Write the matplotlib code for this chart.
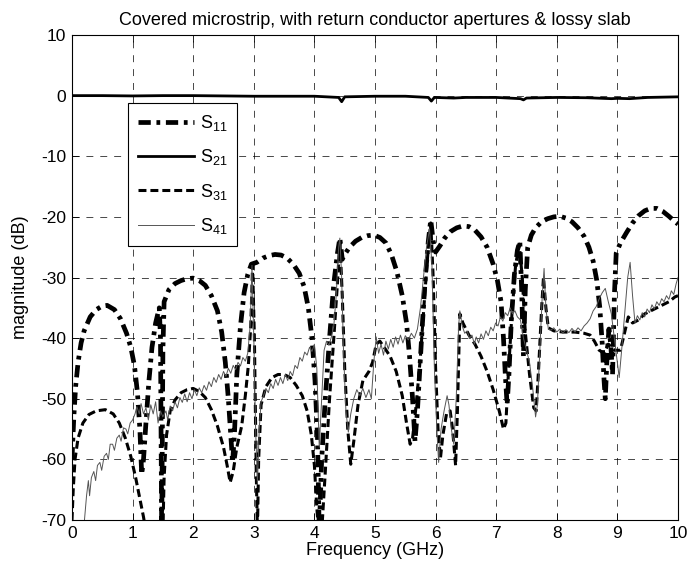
import matplotlib
matplotlib.use("Agg")
import matplotlib.pyplot as plt

plt.rcParams['font.family'] = ['Liberation Sans', 'DejaVu Sans']
plt.rcParams['mathtext.default'] = 'regular'
plt.rcParams['axes.unicode_minus'] = False

# ---- data (GHz, dB) ----
s11_f = [0.00, 0.03, 0.06, 0.10, 0.15, 0.20, 0.30, 0.40, 0.50, 0.58, 0.70, 0.80, 0.90, 0.97,
         1.03, 1.08, 1.12, 1.15, 1.18, 1.22, 1.27, 1.32, 1.38, 1.44, 1.46, 1.48, 1.50, 1.52,
         1.60, 1.70, 1.80, 1.90, 2.00, 2.10, 2.20, 2.30, 2.40, 2.47, 2.53, 2.58, 2.62, 2.65,
         2.68, 2.72, 2.78, 2.84, 2.90, 2.96, 3.05, 3.15, 3.25, 3.35, 3.45, 3.55, 3.65, 3.75,
         3.83, 3.90, 3.96, 4.01, 4.05, 4.08, 4.12, 4.18, 4.25, 4.32, 4.38, 4.42, 4.46, 4.50,
         4.58, 4.68, 4.78, 4.88, 4.98, 5.08, 5.18, 5.27, 5.36, 5.45, 5.52, 5.57, 5.62, 5.66,
         5.70, 5.74, 5.78, 5.83, 5.88, 5.92, 5.96, 6.00, 6.07, 6.15, 6.25, 6.35, 6.45, 6.55,
         6.65, 6.75, 6.85, 6.95, 7.02, 7.08, 7.12, 7.15, 7.18, 7.21, 7.25, 7.30, 7.35, 7.39,
         7.42, 7.45, 7.48, 7.52, 7.58, 7.65, 7.75, 7.85, 7.95, 8.05, 8.15, 8.25, 8.35, 8.45,
         8.53, 8.60, 8.66, 8.71, 8.75, 8.78, 8.80, 8.83, 8.86, 8.89, 8.92, 8.95, 8.98, 9.05,
         9.15, 9.25, 9.35, 9.45, 9.55, 9.65, 9.75, 9.85, 9.95, 10.00]
s11_db = [-60, -53, -48, -44, -40.8, -38.8, -36.5, -35.3, -34.7, -34.6, -35.3, -36.8, -39.2, -41.5,
          -44.5, -49, -55, -62.5, -60, -54, -47, -41.5, -37.5, -35, -40, -72, -42, -34,
          -32, -31, -30.5, -30.2, -30.1, -30.5, -31.3, -33, -35.5, -39, -44, -50, -56, -60.5,
          -56, -46, -38, -32.5, -29.5, -27.8, -27.5, -26.8, -26.4, -26.2, -26.3, -26.8, -27.8, -29.3,
          -31.5, -35, -40, -47, -56, -72, -60, -50, -40, -31, -26, -23.5, -27, -26.2,
          -25, -24, -23.4, -23.1, -23, -23.4, -24.3, -26.2, -29, -33, -37.5, -43, -50, -57,
          -52, -45, -38, -30, -24, -20.5, -24, -25.8, -24.8, -23.5, -22.4, -21.8, -21.5, -21.6,
          -22.2, -23.3, -25, -27.8, -30.5, -34, -40, -46, -51, -46, -37, -29.5, -25.5, -24,
          -32, -43, -32, -25, -23, -21.8, -20.8, -20.3, -20, -19.9, -20.2, -20.8, -21.8, -23.2,
          -25, -27.3, -30.5, -35, -41, -47, -50, -43, -38.5, -41, -46, -33, -26, -24.3,
          -22.6, -21, -19.8, -19, -18.6, -18.6, -19.1, -19.9, -20.8, -21.2]

s21_f = [0.0, 0.5, 1.0, 1.5, 2.0, 2.5, 3.0, 3.5, 4.0, 4.4, 4.45, 4.5, 5.0, 5.5, 5.88, 5.93,
         5.98, 6.3, 6.5, 7.0, 7.4, 7.45, 7.5, 8.0, 8.5, 8.9, 9.0, 9.2, 9.5, 10.0]
s21_db = [0, 0, -0.05, 0, 0, -0.05, -0.1, -0.1, -0.1, -0.3, -1.0, -0.2, -0.1, -0.1, -0.3, -0.9,
          -0.3, -0.4, -0.3, -0.3, -0.5, -0.7, -0.4, -0.3, -0.35, -0.5, -0.45, -0.5, -0.3, -0.2]

s31_f = [0.00, 0.02, 0.05, 0.10, 0.18, 0.28, 0.40, 0.55, 0.68, 0.78, 0.88, 0.97, 1.05, 1.12,
         1.18, 1.22, 1.50, 1.52, 1.56, 1.62, 1.70, 1.80, 1.90, 2.00, 2.10, 2.20, 2.30, 2.40,
         2.50, 2.56, 2.61, 2.66, 2.72, 2.80, 2.86, 2.91, 2.95, 2.98, 3.01, 3.04, 3.06, 3.08,
         3.12, 3.20, 3.30, 3.40, 3.50, 3.60, 3.70, 3.80, 3.88, 3.95, 4.00, 4.04, 4.07, 4.12,
         4.18, 4.25, 4.32, 4.38, 4.42, 4.46, 4.50, 4.55, 4.60, 4.65, 4.72, 4.80, 4.90, 4.96,
         5.02, 5.08, 5.15, 5.25, 5.35, 5.45, 5.52, 5.58, 5.62, 5.68, 5.75, 5.82, 5.88, 5.92,
         5.96, 6.00, 6.04, 6.08, 6.12, 6.18, 6.24, 6.28, 6.33, 6.36, 6.40, 6.45, 6.55, 6.65,
         6.75, 6.85, 6.95, 7.05, 7.12, 7.16, 7.20, 7.26, 7.32, 7.38, 7.43, 7.48, 7.55, 7.62,
         7.66, 7.70, 7.75, 7.78, 7.82, 7.86, 7.95, 8.10, 8.30, 8.45, 8.55, 8.62, 8.70, 8.78,
         8.85, 8.95, 9.05, 9.12, 9.18, 9.25, 9.35, 9.45, 9.55, 9.65, 9.75, 9.85, 9.95, 10.00]
s31_db = [-70, -65, -60, -56.5, -54, -52.6, -52, -51.8, -52.5, -54, -56.5, -59.5, -63, -66.5,
          -69.5, -72, -72, -63, -56, -52, -50.2, -49, -48.5, -48.3, -48.8, -49.8, -51.8, -54.5,
          -58, -61, -63.8, -62, -58, -54.5, -49.5, -44.5, -38, -28, -40, -62, -72, -60,
          -51, -48, -46.5, -46, -46, -46.5, -47.8, -49.5, -52, -56, -61, -68, -72, -72,
          -62, -50, -40, -31, -23.8, -33, -45, -55, -60.8, -57, -51, -47, -45.5, -44,
          -41, -40.5, -41.5, -43, -45.5, -49.5, -54, -57.5, -56.5, -51, -43, -33, -25, -21,
          -30, -45, -55, -59.8, -56, -52.5, -52, -55, -61, -52, -36, -37.5, -39.5, -41,
          -43, -45.5, -48.5, -52, -55, -54, -46, -36, -28, -24.5, -30, -39, -46, -51.5,
          -52, -45, -35, -30, -35, -38.3, -38.8, -39, -39, -39.2, -39.5, -40.5, -42, -42.5,
          -41, -42, -42, -39, -36.5, -37.5, -37, -36, -35.5, -35, -34.5, -34, -33.2, -33]

s41_f = [0.19, 0.21, 0.24, 0.27, 0.29, 0.32, 0.36, 0.39, 0.42, 0.46, 0.49, 0.53, 0.57, 0.60,
         0.63, 0.67, 0.70, 0.74, 0.78, 0.81, 0.85, 0.89, 0.92, 0.96, 1.00, 1.04, 1.07, 1.11,
         1.14, 1.18, 1.22, 1.26, 1.30, 1.34, 1.38, 1.42, 1.46, 1.50, 1.55, 1.58, 1.62, 1.66,
         1.70, 1.74, 1.78, 1.82, 1.86, 1.90, 1.94, 1.98, 2.02, 2.06, 2.10, 2.14, 2.18, 2.22,
         2.26, 2.30, 2.34, 2.38, 2.42, 2.46, 2.50, 2.54, 2.58, 2.62, 2.66, 2.70, 2.74, 2.78,
         2.82, 2.86, 2.90, 2.94, 2.97, 3.00, 3.03, 3.06, 3.09, 3.12, 3.16, 3.20, 3.24, 3.28,
         3.32, 3.36, 3.40, 3.44, 3.48, 3.52, 3.56, 3.60, 3.64, 3.68, 3.72, 3.76, 3.80, 3.84,
         3.88, 3.92, 3.96, 4.00, 4.04, 4.08, 4.12, 4.16, 4.20, 4.24, 4.28, 4.32, 4.36, 4.40,
         4.42, 4.45, 4.48, 4.52, 4.56, 4.60, 4.65, 4.70, 4.75, 4.80, 4.85, 4.90, 4.94, 4.98,
         5.02, 5.06, 5.10, 5.14, 5.18, 5.22, 5.26, 5.30, 5.34, 5.38, 5.42, 5.46, 5.50, 5.55,
         5.60, 5.65, 5.70, 5.75, 5.80, 5.85, 5.90, 5.94, 5.98, 6.02, 6.05, 6.09, 6.14, 6.19,
         6.22, 6.26, 6.30, 6.34, 6.38, 6.40, 6.44, 6.48, 6.52, 6.56, 6.60, 6.64, 6.67, 6.71,
         6.75, 6.79, 6.83, 6.87, 6.91, 6.95, 6.99, 7.03, 7.07, 7.11, 7.15, 7.19, 7.23, 7.27,
         7.31, 7.35, 7.40, 7.45, 7.50, 7.55, 7.60, 7.65, 7.68, 7.72, 7.76, 7.79, 7.82, 7.86,
         7.90, 7.95, 8.00, 8.05, 8.10, 8.15, 8.20, 8.25, 8.30, 8.35, 8.40, 8.45, 8.50, 8.55,
         8.60, 8.65, 8.70, 8.75, 8.80, 8.85, 8.90, 8.95, 9.00, 9.03, 9.07, 9.12, 9.17, 9.21,
         9.25, 9.29, 9.33, 9.37, 9.41, 9.45, 9.49, 9.53, 9.57, 9.61, 9.65, 9.69, 9.73, 9.77,
         9.81, 9.85, 9.89, 9.93, 9.97, 10.00]
s41_db = [-72, -69.5, -66, -63.5, -66, -63, -62, -63.5, -61, -60.5, -61.8, -59.5, -59, -60,
          -57.5, -57.5, -58.5, -56.5, -56, -57, -54.8, -55, -55.8, -54, -53.5, -52.5, -51.3, -52.5,
          -50.8, -52.5, -51.5, -53.5, -51, -52.5, -50.5, -54, -52, -53, -52, -53.5, -51.2, -52,
          -50.5, -51.5, -49.8, -50.6, -49.2, -50.5, -49, -50, -48.5, -49.5, -48.2, -49, -47.8, -48.6,
          -47.2, -48, -46.5, -47.3, -46, -46.8, -45.5, -46.3, -45, -45.8, -44.5, -45.2, -44, -44.6,
          -43.2, -43.8, -42.5, -38, -28, -40, -55, -64, -55, -50.5, -49.5, -48.3, -49, -47.5,
          -48.3, -46.8, -47.8, -46.5, -47.5, -46, -47, -45.5, -46.2, -44.5, -45, -43.2, -43.8, -42.3,
          -42.8, -41.5, -42.2, -41, -45, -58, -50, -42, -40.5, -41.2, -39.8, -38, -33, -25,
          -23.5, -30, -42, -52, -55.5, -52.5, -50, -48.5, -49.5, -48.3, -49.8, -48.5, -50, -44,
          -39.8, -42.5, -41, -42.8, -40.5, -41.8, -40.2, -41.5, -39.8, -41, -39.5, -40.8, -39.6, -40.3,
          -39.2, -40, -38.5, -35, -30, -25, -22, -28, -45, -55, -60.5, -55, -52, -49.5,
          -51, -55, -57.5, -50, -38, -35.5, -38, -39.2, -38.8, -40, -39.5, -41, -39.8, -40.8,
          -39.3, -40.2, -38.8, -39.6, -38.2, -38.8, -37.5, -38, -36.5, -37.2, -35.8, -36.3, -35, -36,
          -35.5, -36.5, -37, -40, -42, -44, -48, -53, -51, -42, -33, -28.5, -35, -38.5,
          -38.7, -38.3, -39, -38.5, -39.2, -38.6, -39.1, -38.4, -39, -38.3, -38.8, -38, -37.5, -36.8,
          -35.5, -34.8, -33.5, -32.5, -31.8, -34, -36, -40, -44, -46.5, -42, -36, -30, -27.5,
          -33, -37.5, -36.3, -37, -35.8, -36.5, -35.2, -35.8, -34.5, -35.2, -34, -34.6, -33.5, -34,
          -33, -33.6, -32.2, -32.8, -31, -30]

x_ticks = list(range(0, 11))
y_ticks = [10, 0, -10, -20, -30, -40, -50, -60, -70]
labels = ['S$_{11}$', 'S$_{21}$', 'S$_{31}$', 'S$_{41}$']


def main():
    fig = plt.figure(figsize=(6.88, 5.67), dpi=100)
    ax = fig.add_axes([72 / 688, 1 - 520 / 567, 606 / 688, 485 / 567])

    ax.plot(s11_f, s11_db, color='k', lw=3.4, linestyle=(0, (2.6, 1.2, 0.8, 1.2)),
            dash_capstyle='butt', label=labels[0])
    ax.plot(s21_f, s21_db, color='k', lw=2.0, label=labels[1])
    ax.plot(s31_f, s31_db, color='k', lw=2.2, linestyle=(0, (2.6, 1.3)),
            dash_capstyle='butt', label=labels[2])
    ax.plot(s41_f, s41_db, color='#555555', lw=0.7, label=labels[3])

    ax.set_xlim(0, 10)
    ax.set_ylim(-70, 10)
    ax.set_xticks(x_ticks)
    ax.set_yticks(y_ticks)
    ax.tick_params(direction='in', top=True, right=True, length=5, width=0.6,
                   labelsize=12.5, pad=4)
    ax.grid(True, color='k', linewidth=0.5, linestyle=(0, (10, 10)))
    for sp in ax.spines.values():
        sp.set_linewidth(0.8)

    ax.set_xlabel('Frequency (GHz)', fontsize=13, labelpad=1)
    ax.set_ylabel('magnitude (dB)', fontsize=13, labelpad=9)
    ax.set_title('Covered microstrip, with return conductor apertures & lossy slab',
                 fontsize=13, pad=7)

    leg = ax.legend(loc='upper left', bbox_to_anchor=(0.092, 0.86), fontsize=13,
                    handlelength=3.1, handletextpad=0.35, labelspacing=0.8,
                    borderpad=0.55, borderaxespad=0, fancybox=False, framealpha=1)
    leg.get_frame().set_edgecolor('k')
    leg.get_frame().set_linewidth(0.8)

    fig.savefig('out.png', dpi=100)
    plt.close(fig)


if __name__ == "__main__":
    main()
